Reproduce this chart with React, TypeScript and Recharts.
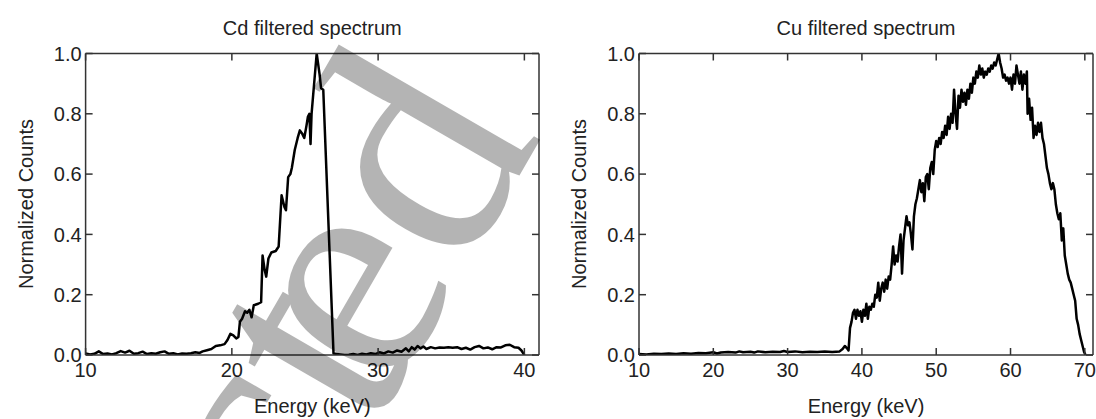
import { LineChart, Line, XAxis, YAxis } from 'recharts';

// Cd filtered spectrum
const cdEnergy = [
  10.0, 10.3, 10.6, 10.9, 11.2, 11.5, 11.8, 12.1, 12.4, 12.7, 13.0, 13.3, 13.6, 13.9, 14.2, 14.5,
  14.8, 15.1, 15.4, 15.7, 16.0, 16.3, 16.6, 16.9, 17.2, 17.5, 17.8, 18.0, 18.3, 18.6, 18.9, 19.2,
  19.5, 19.7, 19.9, 20.1, 20.3, 20.45, 20.55, 20.7, 20.9, 21.05, 21.2, 21.35, 21.5, 21.8, 22.0, 22.1,
  22.25, 22.35, 22.5, 22.7, 23.0, 23.2, 23.4, 23.6, 23.7, 23.85, 24.0, 24.1, 24.3, 24.5, 24.65, 24.8,
  24.95, 25.1, 25.2, 25.3, 25.38, 25.45, 25.8, 26.0, 26.1, 26.25, 26.95, 27.1, 27.4, 27.7, 28.0, 28.3,
  28.6, 28.9, 29.2, 29.5, 29.8, 30.1, 30.4, 30.7, 31.0, 31.3, 31.6, 31.9, 32.1, 32.3, 32.5, 32.7,
  32.9, 33.1, 33.3, 33.6, 33.9, 34.2, 34.5, 34.8, 35.1, 35.4, 35.7, 36.0, 36.3, 36.6, 36.9, 37.2,
  37.5, 37.8, 38.1, 38.4, 38.7, 39.0, 39.3, 39.6, 39.8, 40.0,
];
const cdCounts = [
  0.005, 0.002, 0.004, 0.012, 0.003, 0.005, 0.002, 0.006, 0.013, 0.008, 0.014, 0.004, 0.006, 0.011, 0.003, 0.006,
  0.004, 0.009, 0.012, 0.004, 0.006, 0.002, 0.005, 0.004, 0.006, 0.009, 0.007, 0.012, 0.016, 0.02, 0.03, 0.032,
  0.036, 0.05, 0.07, 0.065, 0.055, 0.06, 0.11, 0.12, 0.145, 0.14, 0.15, 0.125, 0.165, 0.17, 0.175, 0.33,
  0.28, 0.26, 0.32, 0.34, 0.345, 0.36, 0.53, 0.49, 0.48, 0.59, 0.6, 0.62, 0.68, 0.72, 0.745, 0.735,
  0.72, 0.76, 0.79, 0.8, 0.7, 0.8, 1.0, 0.93, 0.885, 0.88, 0.005, 0.004, 0.002, 0.0, 0.001, 0.003,
  0.0, 0.004, 0.002, 0.006, 0.003, 0.009, 0.005, 0.012, 0.008, 0.015, 0.011, 0.022, 0.012, 0.026, 0.018, 0.03,
  0.022, 0.028, 0.02, 0.026, 0.022, 0.025, 0.024, 0.026, 0.024, 0.026, 0.02, 0.024, 0.018, 0.026, 0.03, 0.022,
  0.025, 0.019, 0.026, 0.025, 0.032, 0.034, 0.026, 0.024, 0.015, 0.0,
];
const cdTicks = [10, 20, 30, 40];

// Cu filtered spectrum
const cuEnergy = [
  10, 11, 12, 13, 14, 15, 16, 17, 18, 19, 20, 20.5, 21, 22, 23, 23.5, 24, 25, 25.5, 26, 27, 28, 29, 29.5,
  30, 31, 32, 33, 34, 35, 36, 37, 37.4, 37.7, 38.0, 38.2, 38.4, 38.6, 38.8, 39.0, 39.2, 39.4, 39.6, 39.8,
  40.0, 40.2, 40.4, 40.6, 40.8, 41.0, 41.2, 41.4, 41.6, 41.8, 42.0, 42.2, 42.4, 42.6, 42.8, 43.0, 43.2, 43.4,
  43.6, 43.8, 44.0, 44.2, 44.4, 44.6, 44.8, 45.0, 45.2, 45.4, 45.6, 45.8, 46.0, 46.2, 46.4, 46.6, 46.8, 47.0,
  47.2, 47.4, 47.6, 47.8, 48.0, 48.2, 48.4, 48.6, 48.8, 49.0, 49.2, 49.4, 49.6, 49.8, 50.0, 50.2, 50.4, 50.6,
  50.8, 51.0, 51.2, 51.4, 51.6, 51.8, 52.0, 52.2, 52.4, 52.6, 52.8, 53.0, 53.2, 53.4, 53.6, 53.8, 54.0, 54.2,
  54.4, 54.6, 54.8, 55.0, 55.2, 55.4, 55.6, 55.8, 56.0, 56.2, 56.4, 56.6, 56.8, 57.0, 57.2, 57.4, 57.6, 57.8,
  58.0, 58.2, 58.4, 58.6, 58.8, 59.0, 59.2, 59.4, 59.6, 59.8, 60.0, 60.2, 60.4, 60.6, 60.8, 61.0, 61.2, 61.4,
  61.6, 61.8, 62.0, 62.2, 62.3, 62.5, 62.7, 62.9, 63.1, 63.3, 63.5, 63.7, 63.9, 64.1, 64.3, 64.5, 64.7, 64.9,
  65.1, 65.3, 65.5, 65.7, 65.9, 66.1, 66.3, 66.5, 66.7, 66.9, 67.1, 67.3, 67.5, 67.7, 67.9, 68.1, 68.3, 68.5,
  68.7, 68.9, 69.1, 69.3, 69.5, 69.7, 69.9, 70.1,
];
const cuCounts = [
  0.003, 0.002, 0.004, 0.003, 0.005, 0.003, 0.006, 0.004, 0.007, 0.006, 0.009, 0.005, 0.008, 0.01, 0.008, 0.012, 0.009, 0.011, 0.008, 0.012, 0.009, 0.011, 0.01, 0.013,
  0.01, 0.012, 0.009, 0.011, 0.01, 0.012, 0.01, 0.012, 0.02, 0.03, 0.022, 0.015, 0.09, 0.11, 0.14, 0.15, 0.12, 0.15, 0.13, 0.145,
  0.11, 0.15, 0.13, 0.17, 0.12, 0.16, 0.15, 0.17, 0.16, 0.2, 0.19, 0.24, 0.18, 0.22, 0.24, 0.21, 0.25, 0.22,
  0.26, 0.25, 0.3, 0.36, 0.3, 0.33, 0.31, 0.36, 0.4, 0.27, 0.38, 0.42, 0.46, 0.43, 0.44, 0.4, 0.35, 0.46,
  0.5, 0.52, 0.55, 0.58, 0.54, 0.57, 0.51, 0.59, 0.6, 0.55, 0.62, 0.64, 0.6, 0.68, 0.71, 0.69, 0.72, 0.7,
  0.74, 0.72, 0.76, 0.73, 0.79, 0.75, 0.8, 0.77, 0.88, 0.8, 0.75, 0.86, 0.82, 0.88, 0.84, 0.87, 0.83, 0.88,
  0.85, 0.9, 0.87, 0.92, 0.9, 0.94, 0.92, 0.96, 0.93, 0.95, 0.92, 0.94, 0.93, 0.95, 0.94, 0.96, 0.95, 0.97,
  0.96, 0.98, 1.0, 0.97, 0.95, 0.92, 0.93, 0.91, 0.92, 0.9, 0.92, 0.88, 0.93, 0.9, 0.96, 0.93, 0.9, 0.94,
  0.88, 0.93, 0.9, 0.94, 0.8, 0.85, 0.78, 0.82, 0.72, 0.76, 0.73, 0.77, 0.74, 0.77, 0.72, 0.7, 0.66, 0.62,
  0.6, 0.57, 0.55, 0.57, 0.55, 0.5, 0.47, 0.45, 0.47, 0.38, 0.42, 0.33, 0.3, 0.27, 0.25, 0.24, 0.22, 0.2,
  0.18, 0.12, 0.1, 0.07, 0.05, 0.03, 0.01, 0.0,
];
const cuTicks = [10, 20, 30, 40, 50, 60, 70];

const yTicks = [0, 0.2, 0.4, 0.6, 0.8, 1.0];

const FONT = '"Liberation Sans", Arial, Helvetica, sans-serif';
const SERIF = '"Liberation Serif", "DejaVu Serif", serif';
const INK = '#222';
const FRAME = '#333';
const TICK_LEN = 7;
const PLOT_TOP = 53.5;
const PLOT_BOTTOM = 355;
const H = 419;

const BottomTick = (props: any) => {
  const { x, y, payload } = props;
  return (
    <g>
      <line x1={x} y1={y} x2={x} y2={y - TICK_LEN} stroke={FRAME} strokeWidth={1.5} />
      <text x={x} y={y + 8} dy="0.71em" textAnchor="middle" fill={INK} fontSize={20} fontFamily={FONT}>
        {payload.value}
      </text>
    </g>
  );
};

const TopTick = (props: any) => {
  const { x, y } = props;
  return <line x1={x} y1={y} x2={x} y2={y + TICK_LEN} stroke={FRAME} strokeWidth={1.5} />;
};

const LeftTick = (props: any) => {
  const { x, y, payload } = props;
  return (
    <g>
      <line x1={x} y1={y} x2={x + TICK_LEN} y2={y} stroke={FRAME} strokeWidth={1.5} />
      <text x={x - 4} y={y} dy="0.36em" textAnchor="end" fill={INK} fontSize={20} fontFamily={FONT}>
        {Number(payload.value).toFixed(1)}
      </text>
    </g>
  );
};

const RightTick = (props: any) => {
  const { x, y } = props;
  return <line x1={x} y1={y} x2={x - TICK_LEN} y2={y} stroke={FRAME} strokeWidth={1.5} />;
};

interface PanelProps {
  title: string;
  energy: number[];
  counts: number[];
  xTicks: number[];
  xMax: number;
  left: number;
  width: number;
  plotLeft: number;
  plotRight: number;
}

function SpectrumPanel({ title, energy, counts, xTicks, xMax, left, width, plotLeft, plotRight }: PanelProps) {
  const data = energy.map((e, i) => ({ e, c: counts[i] }));
  const cx = (plotLeft + plotRight) / 2;
  const cy = (PLOT_TOP + PLOT_BOTTOM) / 2;
  const textStyle = {
    position: 'absolute' as const,
    fontFamily: FONT,
    fontSize: 20,
    color: INK,
    whiteSpace: 'nowrap' as const,
    lineHeight: 1,
  };
  // every axis is 1px thick so it still renders; margins make up for it
  const axisLine = { stroke: FRAME, strokeWidth: 1.5 };

  return (
    <div style={{ position: 'absolute', left, top: 0, width, height: H }}>
      <LineChart
        width={width}
        height={H}
        data={data}
        margin={{ top: PLOT_TOP - 1, bottom: H - PLOT_BOTTOM - 1, left: plotLeft - 1, right: width - plotRight - 1 }}
      >
        <XAxis
          dataKey="e"
          type="number"
          domain={[10, xMax]}
          allowDataOverflow
          ticks={xTicks}
          height={1}
          tickSize={0}
          tickMargin={0}
          tick={<BottomTick />}
          tickLine={false}
          axisLine={axisLine}
        />
        <XAxis
          xAxisId="top"
          orientation="top"
          dataKey="e"
          type="number"
          domain={[10, xMax]}
          allowDataOverflow
          ticks={xTicks}
          height={1}
          tickSize={0}
          tickMargin={0}
          tick={<TopTick />}
          tickLine={false}
          axisLine={axisLine}
        />
        <YAxis
          type="number"
          domain={[0, 1]}
          allowDataOverflow
          ticks={yTicks}
          width={1}
          tickSize={0}
          tickMargin={0}
          tick={<LeftTick />}
          tickLine={false}
          axisLine={axisLine}
        />
        <YAxis
          yAxisId="right"
          orientation="right"
          type="number"
          domain={[0, 1]}
          allowDataOverflow
          ticks={yTicks}
          width={1}
          tickSize={0}
          tickMargin={0}
          tick={<RightTick />}
          tickLine={false}
          axisLine={axisLine}
        />
        <Line
          type="linear"
          dataKey="c"
          stroke="#000"
          strokeWidth={2.5}
          strokeLinejoin="round"
          dot={false}
          activeDot={false}
          isAnimationActive={false}
        />
      </LineChart>
      <div style={{ ...textStyle, left: cx, top: 28, transform: 'translate(-50%, -50%)' }}>{title}</div>
      <div style={{ ...textStyle, left: cx, top: 406, transform: 'translate(-50%, -50%)' }}>Energy (keV)</div>
      <div style={{ ...textStyle, left: plotLeft - 60, top: cy, transform: 'translate(-50%, -50%) rotate(-90deg)' }}>
        Normalized Counts
      </div>
    </div>
  );
}

// "Retracted" stamp across the figure, along a tilted baseline
function Watermark() {
  return (
    <svg width={1096} height={H} style={{ position: 'absolute', left: 0, top: 0, pointerEvents: 'none' }}>
      <g transform="translate(391 398) rotate(-60)" opacity={0.29} fill="#000" fontFamily={SERIF} fontSize={320}>
        <text x={45} y={0} textAnchor="end">Retract</text>
        <text x={0} y={0}>ed</text>
      </g>
    </svg>
  );
}

export default function App() {
  return (
    <div style={{ position: 'absolute', left: 0, top: 0, width: 1096, height: H, background: '#fff', overflow: 'hidden' }}>
      <SpectrumPanel
        title="Cd filtered spectrum"
        energy={cdEnergy}
        counts={cdCounts}
        xTicks={cdTicks}
        xMax={41}
        left={0}
        width={560}
        plotLeft={85.6}
        plotRight={539}
      />
      <SpectrumPanel
        title="Cu filtered spectrum"
        energy={cuEnergy}
        counts={cuCounts}
        xTicks={cuTicks}
        xMax={71.1}
        left={560}
        width={536}
        plotLeft={79}
        plotRight={533}
      />
      <Watermark />
    </div>
  );
}
